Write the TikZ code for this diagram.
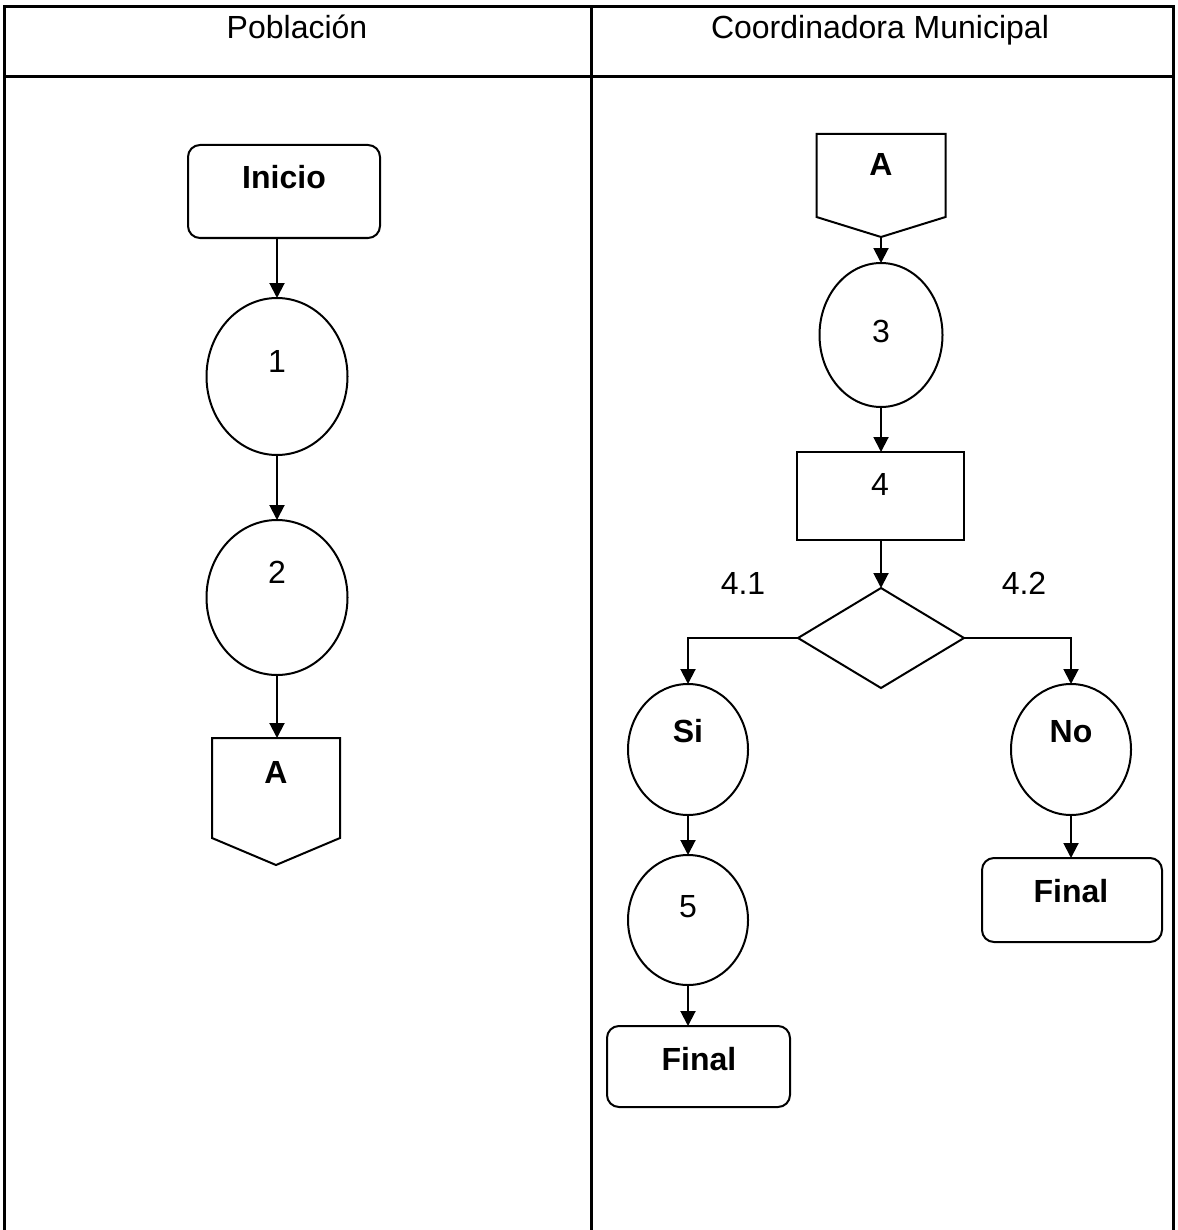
\documentclass[tikz,border=0pt]{standalone}
\usepackage{fontspec}
\setmainfont{Liberation Sans}
\usetikzlibrary{shapes.geometric,arrows.meta,calc}
\begin{document}
\begin{tikzpicture}[x=0.5pt,y=-0.5pt,
 every node/.style={inner sep=0pt, outer sep=0pt},
 shp/.style={draw, line width=1pt},
 rbox/.style={shp, rectangle, rounded corners=6pt},
 sbox/.style={shp, rectangle},
 oval/.style={shp, ellipse},
 dmd/.style={shp, diamond},
 offp/.style={rectangle},
 txt/.style={anchor=base, font=\fontsize{16pt}{19pt}\selectfont},
 btxt/.style={anchor=base, font=\fontsize{16pt}{19pt}\selectfont\bfseries},
 arr/.style={line width=1pt, -{Triangle[length=7.5pt,width=7.5pt]}},
 ln/.style={line width=1pt, line join=miter},
 grid/.style={line width=1.5pt}
]
\useasboundingbox (0,0) rectangle (1177,1230);
% table
\draw[grid] (4,1230) -- (4,7) -- (1173,7) -- (1173,1230);
\draw[grid] (4,77) -- (1173,77);
\draw[grid] (591,7) -- (591,1230);
\node[txt] (h1) at (297,39) {Población};
\node[txt] (h2) at (880,39) {Coordinadora Municipal};

% left column
\node[rbox, minimum width=96pt, minimum height=46.5pt] (ini) at (284,191.5) {};
\node[btxt] (tini) at (284,189) {Inicio};
\node[oval, minimum width=70.5pt, minimum height=78.5pt] (c1) at (277,376.5) {};
\node[txt] (t1) at (277,372) {1};
\node[oval, minimum width=70.5pt, minimum height=77.5pt] (c2) at (277,597.5) {};
\node[txt] (t2) at (277,583) {2};
\node[offp, minimum width=64pt, minimum height=63.5pt] (A1) at (276,801.5) {};
\draw[ln] (A1.north west) -- (A1.north east) -- ($(A1.south east)+(0,-27)$) -- (A1.south) -- ($(A1.south west)+(0,-27)$) -- cycle;
\node[btxt] (tA1) at (276,783) {A};

\draw[arr] (ini.south -| c1.north) -- (c1.north);
\draw[arr] (c1.south) -- (c2.north);
\draw[arr] (c2.south) -- (c2.south |- A1.north);

% right column
\node[offp, minimum width=64.5pt, minimum height=51.5pt] (A2) at (881,185.5) {};
\draw[ln] (A2.north west) -- (A2.north east) -- ($(A2.south east)+(0,-20)$) -- (A2.south) -- ($(A2.south west)+(0,-20)$) -- cycle;
\node[btxt] (tA2) at (881,176) {A};
\node[oval, minimum width=61.5pt, minimum height=72pt] (c3) at (881,335) {};
\node[txt] (t3) at (881,342) {3};
\node[sbox, minimum width=83.5pt, minimum height=44pt] (r4) at (880,496) {};
\node[txt] (t4) at (880,495) {4};
\node[dmd, minimum width=83pt, minimum height=50pt] (d) at (881,638) {};
\node[txt] (t41) at (743,594) {4.1};
\node[txt] (t42) at (1024,594) {4.2};
\node[oval, minimum width=60pt, minimum height=65.5pt] (si) at (688,749.5) {};
\node[btxt] (tsi) at (688,742) {Si};
\node[oval, minimum width=60pt, minimum height=65.5pt] (no) at (1071,749.5) {};
\node[btxt] (tno) at (1071,742) {No};
\node[oval, minimum width=60pt, minimum height=65pt] (c5) at (688,920) {};
\node[txt] (t5) at (688,917) {5};
\node[rbox, minimum width=91.5pt, minimum height=40.5pt] (f1) at (698.5,1066.5) {};
\node[btxt] (tf1) at (699,1070) {Final};
\node[rbox, minimum width=90pt, minimum height=42pt] (f2) at (1072,900) {};
\node[btxt] (tf2) at (1071,902) {Final};

\draw[arr] (A2.south) -- (A2.south |- c3.north);
\draw[arr] (c3.south) -- (c3.south |- r4.north);
\draw[arr] (r4.south -| d.north) -- (d.north);
\draw[arr] (d.west) -| (si.north);
\draw[arr] (d.east) -| (no.north);
\draw[arr] (si.south) -- (si.south |- c5.north);
\draw[arr] (c5.south) -- (c5.south |- f1.north);
\draw[arr] (no.south) -- (no.south |- f2.north);
\end{tikzpicture}
\end{document}
